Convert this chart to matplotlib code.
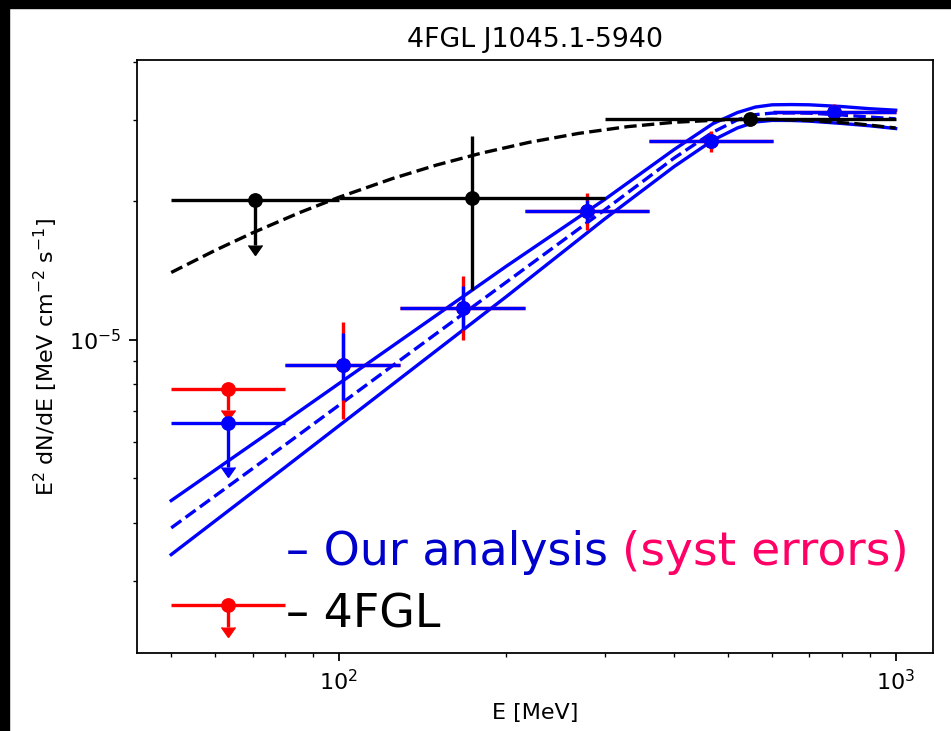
import numpy as np
import matplotlib.pyplot as plt
from matplotlib.patches import Rectangle
from matplotlib.ticker import NullFormatter

# our analysis: energy bins (MeV) and E^2 dN/dE (MeV cm-2 s-1)
e_lo = [50, 80, 129, 216, 361, 602]
e_hi = [80, 129, 216, 361, 602, 1000]
e_mid = [63.2, 101.6, 166.9, 279.2, 466, 776]
flux = [6.6e-6, 8.8e-6, 1.172e-5, 1.897e-5, 2.693e-5, 3.114e-5]
stat_lo = [5.28e-6, 7.41e-6, 1.051e-5, 1.794e-5, 2.610e-5, 3.053e-5]
stat_hi = [6.6e-6, 1.034e-5, 1.305e-5, 2.011e-5, 2.784e-5, 3.177e-5]
is_ul = [True, False, False, False, False, False]

# systematic errors (red)
syst_flux = [7.83e-6, 8.8e-6, 1.172e-5, 1.897e-5, 2.693e-5, 3.114e-5]
syst_lo = [7.05e-6, 6.74e-6, 1.0e-5, 1.732e-5, 2.549e-5, 3.031e-5]
syst_hi = [7.83e-6, 1.090e-5, 1.372e-5, 2.080e-5, 2.831e-5, 3.25e-5]
syst_ul = [True, False, False, False, False, False]

# red marker next to the "4FGL" note
note_flux = [2.65e-6]
note_lo = [2.385e-6]

# 4FGL points (black)
fgl_lo = [50, 100, 300]
fgl_hi = [100, 300, 1000]
fgl_mid = [70.7, 173.2, 547.7]
fgl_flux = [2.005e-5, 2.029e-5, 3.01e-5]
fgl_ylo = [1.604e-5, 1.284e-5, 3.01e-5]
fgl_yhi = [2.005e-5, 2.761e-5, 3.01e-5]
fgl_ul = [True, False, False]

# 4FGL model curve
model_e = [50, 60, 70, 85, 100, 125, 150, 180, 220, 270, 330, 400, 500, 600, 700, 850, 1000]
model_f = [1.398e-5, 1.562e-5, 1.704e-5, 1.885e-5, 2.035e-5, 2.236e-5, 2.392e-5, 2.536e-5,
           2.679e-5, 2.801e-5, 2.896e-5, 2.960e-5, 3.000e-5, 3.004e-5, 2.987e-5, 2.939e-5, 2.877e-5]

# our fit with its band
band_e = [50, 80, 130, 200, 300, 400, 470, 520, 560, 600, 650, 700, 800, 900, 1000]
band_hi = [4.475e-6, 6.643e-6, 1.002e-5, 1.443e-5, 2.012e-5, 2.583e-5, 2.941e-5, 3.108e-5,
           3.194e-5, 3.230e-5, 3.234e-5, 3.230e-5, 3.202e-5, 3.167e-5, 3.144e-5]
band_mid = [3.904e-6, 5.905e-6, 9.095e-6, 1.333e-5, 1.910e-5, 2.475e-5, 2.819e-5, 2.997e-5,
            3.075e-5, 3.099e-5, 3.102e-5, 3.098e-5, 3.070e-5, 3.038e-5, 3.011e-5]
band_lo = [3.417e-6, 5.279e-6, 8.301e-6, 1.240e-5, 1.825e-5, 2.372e-5, 2.708e-5, 2.878e-5,
           2.965e-5, 2.988e-5, 2.987e-5, 2.977e-5, 2.943e-5, 2.908e-5, 2.869e-5]

s = 1.605  # screenshot scale
plt.rcParams['lines.linewidth'] = 1.5 * s
plt.rcParams['lines.markersize'] = 6 * s
plt.rcParams['axes.linewidth'] = 0.8 * s
for ax_name in ['xtick', 'ytick']:
    plt.rcParams[ax_name + '.major.size'] = 3.5 * s
    plt.rcParams[ax_name + '.minor.size'] = 2 * s
    plt.rcParams[ax_name + '.major.width'] = 0.8 * s
    plt.rcParams[ax_name + '.minor.width'] = 0.6 * s
    plt.rcParams[ax_name + '.major.pad'] = 3.5 * s
    plt.rcParams[ax_name + '.minor.pad'] = 3.4 * s
    plt.rcParams[ax_name + '.labelsize'] = 10 * s

fig = plt.figure(figsize=(9.51, 7.31), dpi=100)
ax = fig.add_axes([137 / 951, 1 - 653 / 731, 796 / 951, 593 / 731])


def xerrs(mid, lo, hi):
    m = np.array(mid)
    return [m - np.array(lo), np.array(hi) - m]


def yerrs(f, lo, hi):
    f = np.array(f)
    return [f - np.array(lo), np.array(hi) - f]


# fit band
ax.plot(band_e, band_hi, color='blue', zorder=2)
ax.plot(band_e, band_lo, color='blue', zorder=2)
ax.plot(band_e, band_mid, color='blue', linestyle='--', zorder=2)

# systematics
ax.errorbar(e_mid, syst_flux, xerr=xerrs(e_mid, e_lo, e_hi), yerr=yerrs(syst_flux, syst_lo, syst_hi),
            uplims=syst_ul, fmt='o', color='red', zorder=3)
ax.errorbar([e_mid[0]], note_flux, xerr=[[e_mid[0] - e_lo[0]], [e_hi[0] - e_mid[0]]],
            yerr=[[note_flux[0] - note_lo[0]], [0]], uplims=[True], fmt='o', color='red', zorder=3)

# our analysis
ax.errorbar(e_mid, flux, xerr=xerrs(e_mid, e_lo, e_hi), yerr=yerrs(flux, stat_lo, stat_hi),
            uplims=is_ul, fmt='o', color='blue', zorder=4)

# 4FGL
ax.errorbar(fgl_mid, fgl_flux, xerr=xerrs(fgl_mid, fgl_lo, fgl_hi), yerr=yerrs(fgl_flux, fgl_ylo, fgl_yhi),
            uplims=fgl_ul, fmt='o', color='black', zorder=5)
ax.plot(model_e, model_f, color='black', linestyle='--', zorder=5)

ax.set_xscale('log')
ax.set_yscale('log')
ax.set_xlim(43.4, 1167)
ax.set_ylim(2.09e-6, 4.04e-5)
ax.xaxis.set_minor_formatter(NullFormatter())
ax.yaxis.set_minor_formatter(NullFormatter())
ax.set_title('4FGL J1045.1-5940', fontsize=12 * s, pad=6 * s)
ax.set_xlabel('E [MeV]', fontsize=10 * s, labelpad=4 * s)
ax.set_ylabel('E$^2$ dN/dE [MeV cm$^{-2}$ s$^{-1}$]', fontsize=10 * s, labelpad=4 * s)

# notes pasted on the slide
fig.text(286 / 951, 1 - 565 / 731, '– Our analysis', color='#0000cc', fontsize=33, va='baseline')
fig.text(622 / 951, 1 - 565 / 731, '(syst errors)', color='#ff0066', fontsize=34, va='baseline')
fig.text(286 / 951, 1 - 627 / 731, '– 4FGL', color='black', fontsize=33, va='baseline')

# black frame of the screenshot
fig.patches.append(Rectangle((0, 0), 9 / 951, 1, transform=fig.transFigure, color='black'))
fig.patches.append(Rectangle((0, 1 - 8 / 731), 1, 8 / 731, transform=fig.transFigure, color='black'))

fig.savefig('out.png', dpi=100)
